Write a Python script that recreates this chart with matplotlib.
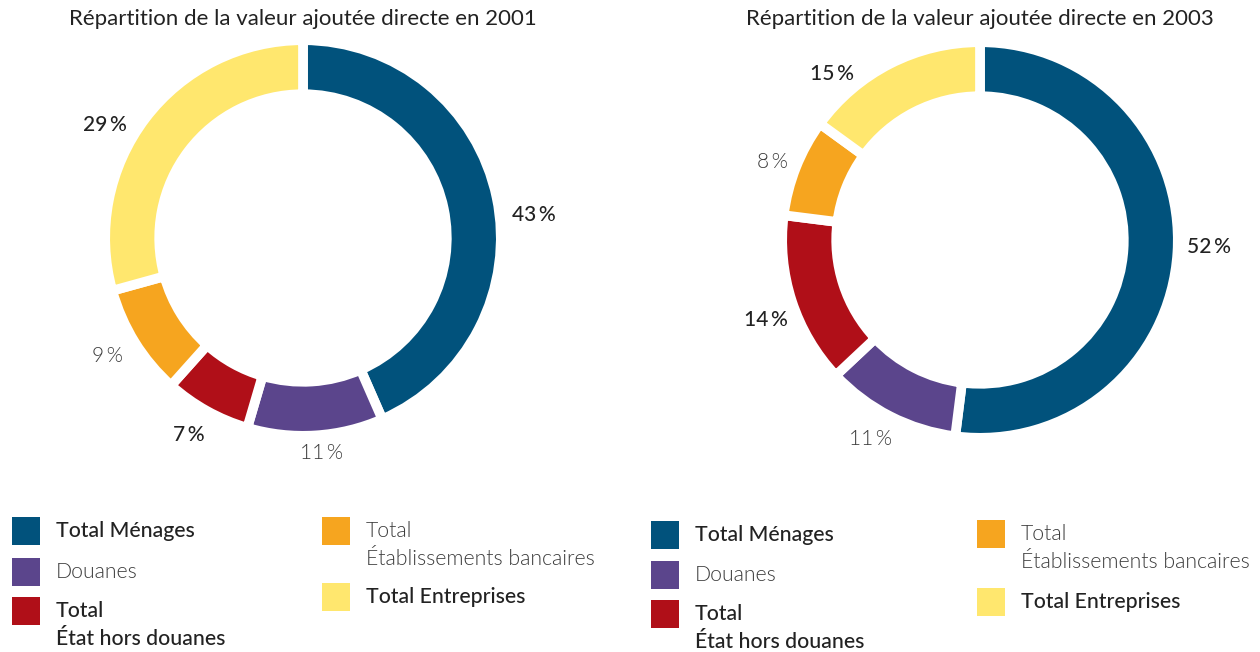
import matplotlib
matplotlib.use("Agg")
import matplotlib.pyplot as plt
from matplotlib.patches import Rectangle

plt.rcParams['font.family'] = ['Lato', 'DejaVu Sans']

# data
categories = ['Total Ménages', 'Douanes', 'Total\nÉtat hors douanes',
              'Total\nÉtablissements bancaires', 'Total Entreprises']
values_2001 = [43, 11, 7, 9, 29]
values_2003 = [52, 11, 14, 8, 15]
titles = ['Répartition de la valeur ajoutée directe en 2001',
          'Répartition de la valeur ajoutée directe en 2003']

colors = ['#01527c', '#5b458c', '#b00f18', '#f6a51f', '#ffe76e']
# dark/bold-ish vs light text per category
dark = [True, False, True, False, True]

# small nudges of the % labels (axes units), layout only
nudge_2001 = [(0.04, -0.12), (0.02, 0.06), (-0.02, 0.01), (-0.01, 0.01), (-0.09, -0.13)]
nudge_2003 = [(0.01, 0.04), (-0.03, 0.02), (0.01, -0.05), (0.02, -0.03), (-0.23, -0.19)]

W, H = 1260, 652
fig = plt.figure(figsize=(W / 100, H / 100), dpi=100)


def fx(x):
    return x / W


def fy(y):
    return 1 - y / H


def style(t, d, size):
    t.set_fontsize(size)
    if d:
        t.set_color('#222222')
        t.set_fontweight('medium')
    else:
        t.set_color('#3c3c3c')
        t.set_fontweight(300)


def donut(cx, cy, rx, ry, values, title, nudge):
    ax = fig.add_axes([fx(cx - rx), fy(cy + ry), 2 * rx / W, 2 * ry / H])
    wedges, texts, autotexts = ax.pie(
        values, colors=colors, startangle=90, counterclock=False, radius=1.025,
        wedgeprops=dict(width=0.28, edgecolor='white', linewidth=7),
        autopct=lambda p: '%d\u2009%%' % round(p * sum(values) / 100),
        pctdistance=1.15)
    for t, d, (dx, dy) in zip(autotexts, dark, nudge):
        style(t, d, 15)
        x, y = t.get_position()
        t.set_position((x + dx, y + dy))
    ax.set_xlim(-1, 1)
    ax.set_ylim(-1, 1)
    ax.axis('off')
    fig.text(fx(cx), fy(19), title, ha='center', va='center', fontsize=16,
             color='#222222')


def legend(x0, x1, ys):
    xs = [x0, x0, x0, x1, x1]
    for i, (lab, c) in enumerate(zip(categories, colors)):
        x, y = xs[i], ys[i]
        fig.add_artist(Rectangle((fx(x), fy(y + 14)), 28 / W, 28 / H,
                                 transform=fig.transFigure, color=c, lw=0))
        for k, line in enumerate(lab.split('\n')):
            t = fig.text(fx(x + 44), fy(y + 28 * k), line, ha='left', va='center')
            style(t, dark[i], 15.3)


donut(303, 238, 199, 193, values_2001, titles[0], nudge_2001)
donut(980, 240, 198, 193, values_2003, titles[1], nudge_2003)
legend(12, 322, [531, 572, 611, 531, 597])
legend(651, 977, [535, 575, 614, 534, 602])

fig.savefig('out.png', dpi=100)
